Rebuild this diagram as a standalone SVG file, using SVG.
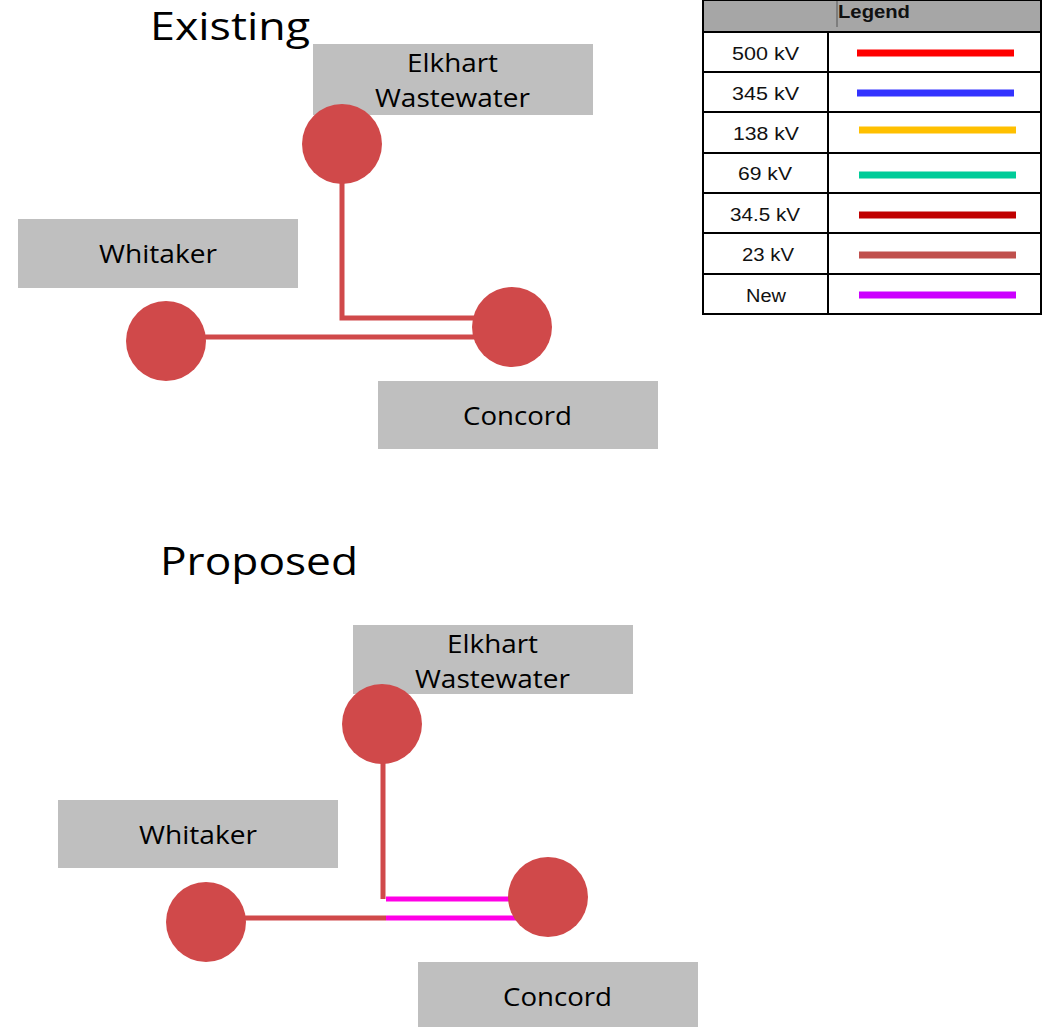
<svg xmlns="http://www.w3.org/2000/svg" width="1042" height="1027" viewBox="0 0 1042 1027">
<style>
.title{font-family:"Open Sans","Liberation Sans",sans-serif;font-size:38px;fill:#000}
.box{fill:#bfbfbf}
.lbl{font-family:"Open Sans","Liberation Sans",sans-serif;font-size:25px;fill:#000}
.sub{fill:#d0494a}
.ln{stroke:#d0494a;stroke-width:5;fill:none}
.new{stroke:#ff00e6;stroke-width:5;fill:none}
.lg{font-family:"Liberation Sans",Arial,sans-serif;font-size:18px;fill:#111}
.grid{stroke:#000;stroke-width:2;fill:none}
.sw{stroke-width:7}
</style>
<rect width="1042" height="1027" fill="#fff"/>
<text class="title" x="150" y="40" textLength="160" lengthAdjust="spacingAndGlyphs">Existing</text>
<text class="title" x="160" y="575" textLength="198" lengthAdjust="spacingAndGlyphs">Proposed</text>

<g id="connectors">
  <polyline class="ln" points="342,180 342,318 512,318"/>
  <line class="ln" x1="166" y1="337" x2="512" y2="337"/>
  <line class="ln" x1="383" y1="760" x2="383" y2="899"/>
  <line class="ln" x1="206" y1="918" x2="386" y2="918"/>
  <line class="new" x1="386" y1="899" x2="548" y2="899"/>
  <line class="new" x1="386" y1="918" x2="548" y2="918"/>
</g>

<g id="existing-elkhart">
  <rect class="box" x="313" y="44" width="280" height="71"/>
  <text class="lbl" x="407" y="72" textLength="91" lengthAdjust="spacingAndGlyphs">Elkhart</text>
  <text class="lbl" x="375" y="107" textLength="155" lengthAdjust="spacingAndGlyphs">Wastewater</text>
  <circle class="sub" cx="342" cy="144" r="40"/>
</g>
<g id="existing-whitaker">
  <rect class="box" x="18" y="219" width="280" height="69"/>
  <text class="lbl" x="99" y="263" textLength="118" lengthAdjust="spacingAndGlyphs">Whitaker</text>
  <circle class="sub" cx="166" cy="341" r="40"/>
</g>
<g id="existing-concord">
  <rect class="box" x="378" y="381" width="280" height="68"/>
  <text class="lbl" x="463" y="425" textLength="109" lengthAdjust="spacingAndGlyphs">Concord</text>
  <circle class="sub" cx="512" cy="327" r="40"/>
</g>

<g id="proposed-elkhart">
  <rect class="box" x="353" y="625" width="280" height="69"/>
  <text class="lbl" x="447" y="653" textLength="91" lengthAdjust="spacingAndGlyphs">Elkhart</text>
  <text class="lbl" x="415" y="688" textLength="155" lengthAdjust="spacingAndGlyphs">Wastewater</text>
  <circle class="sub" cx="382" cy="724" r="40"/>
</g>
<g id="proposed-whitaker">
  <rect class="box" x="58" y="800" width="280" height="68"/>
  <text class="lbl" x="139" y="844" textLength="118" lengthAdjust="spacingAndGlyphs">Whitaker</text>
  <circle class="sub" cx="206" cy="922" r="40"/>
</g>
<g id="proposed-concord">
  <rect class="box" x="418" y="962" width="280" height="65"/>
  <text class="lbl" x="503" y="1006" textLength="109" lengthAdjust="spacingAndGlyphs">Concord</text>
  <circle class="sub" cx="548" cy="897" r="40"/>
</g>

<g id="legend">
  <rect x="703" y="0" width="338" height="32" fill="#a6a6a6"/>
  <line x1="837" y1="0" x2="837" y2="27" stroke="#555" stroke-width="1"/>
  <text x="838" y="18" font-family="Liberation Sans,Arial,sans-serif" font-size="18" font-weight="bold" fill="#111" textLength="72" lengthAdjust="spacingAndGlyphs">Legend</text>
  <rect class="grid" x="703" y="0" width="338" height="314"/>
  <line class="grid" x1="703" y1="32" x2="1041" y2="32"/>
  <line class="grid" x1="703" y1="72" x2="1041" y2="72"/>
  <line class="grid" x1="703" y1="112" x2="1041" y2="112"/>
  <line class="grid" x1="703" y1="153" x2="1041" y2="153"/>
  <line class="grid" x1="703" y1="193" x2="1041" y2="193"/>
  <line class="grid" x1="703" y1="233" x2="1041" y2="233"/>
  <line class="grid" x1="703" y1="274" x2="1041" y2="274"/>
  <line class="grid" x1="828" y1="32" x2="828" y2="314"/>
  <text class="lg" x="732" y="60" textLength="67" lengthAdjust="spacingAndGlyphs">500 kV</text>
  <text class="lg" x="732" y="100" textLength="67" lengthAdjust="spacingAndGlyphs">345 kV</text>
  <text class="lg" x="733" y="140" textLength="66" lengthAdjust="spacingAndGlyphs">138 kV</text>
  <text class="lg" x="738" y="180" textLength="54" lengthAdjust="spacingAndGlyphs">69 kV</text>
  <text class="lg" x="730" y="221" textLength="70" lengthAdjust="spacingAndGlyphs">34.5 kV</text>
  <text class="lg" x="742" y="261" textLength="52" lengthAdjust="spacingAndGlyphs">23 kV</text>
  <text class="lg" x="746" y="302" textLength="40" lengthAdjust="spacingAndGlyphs">New</text>
  <line class="sw" x1="857" y1="53" x2="1014" y2="53" stroke="#ff0000"/>
  <line class="sw" x1="857" y1="93" x2="1014" y2="93" stroke="#3333ff"/>
  <line class="sw" x1="859" y1="130" x2="1016" y2="130" stroke="#ffc000"/>
  <line class="sw" x1="859" y1="175" x2="1016" y2="175" stroke="#00cc99"/>
  <line class="sw" x1="859" y1="215" x2="1016" y2="215" stroke="#c00000"/>
  <line class="sw" x1="859" y1="255" x2="1016" y2="255" stroke="#c0504d"/>
  <line class="sw" x1="859" y1="295" x2="1016" y2="295" stroke="#cc00ff"/>
</g>
</svg>
